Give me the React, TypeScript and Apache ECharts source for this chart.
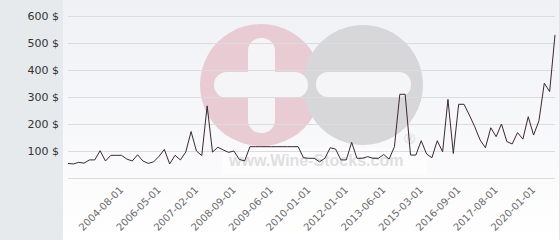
import React, { useEffect, useRef } from "react";
import * as echarts from "echarts";

const dates: string[] = [
  "2002-02-01", "2002-05-01", "2002-08-01", "2002-11-01", "2003-02-01", "2003-05-01", "2003-08-01", "2003-11-01", "2004-02-01", "2004-05-01",
  "2004-08-01",
  "2004-11-01", "2005-02-01", "2005-05-01", "2005-08-01", "2005-11-01", "2006-02-01",
  "2006-05-01",
  "2006-06-01", "2006-07-01", "2006-08-01", "2006-10-01", "2006-11-01", "2006-12-01",
  "2007-02-01",
  "2007-05-01", "2007-08-01", "2007-11-01", "2008-02-01", "2008-05-01", "2008-07-01",
  "2008-09-01",
  "2008-10-01", "2008-11-01", "2008-12-01", "2009-01-01", "2009-03-01", "2009-04-01",
  "2009-06-01",
  "2009-07-01", "2009-08-01", "2009-09-01", "2009-10-01", "2009-11-01", "2009-12-01",
  "2010-01-01",
  "2010-04-01", "2010-07-01", "2010-10-01", "2011-01-01", "2011-05-01", "2011-09-01",
  "2012-01-01",
  "2012-03-01", "2012-06-01", "2012-08-01", "2012-10-01", "2013-01-01", "2013-03-01",
  "2013-06-01",
  "2013-09-01", "2013-12-01", "2014-03-01", "2014-06-01", "2014-09-01", "2014-12-01",
  "2015-03-01",
  "2015-06-01", "2015-08-01", "2015-11-01", "2016-01-01", "2016-04-01", "2016-06-01",
  "2016-09-01",
  "2016-10-01", "2016-12-01", "2017-01-01", "2017-03-01", "2017-05-01", "2017-06-01",
  "2017-08-01",
  "2017-12-01", "2018-04-01", "2018-08-01", "2018-12-01", "2019-04-01", "2019-08-01",
  "2020-01-01",
  "2020-06-01", "2020-11-01", "2021-04-01", "2021-09-01",
];

const prices: number[] = [
  54, 52, 58, 55, 67, 67, 101, 63, 84, 84,
  84, 70, 63, 86, 63, 54, 60, 80, 106, 52,
  84, 67, 96, 172, 100, 83, 267, 96, 114, 104,
  95, 100, 69, 63, 116, 116, 116, 116, 116, 116,
  116, 116, 116, 116, 75, 73, 73, 60, 73, 112,
  107, 67, 67, 132, 73, 73, 79, 73, 73, 87,
  70, 116, 310, 310, 85, 85, 138, 89, 75, 138,
  97, 291, 91, 273, 273, 233, 190, 141, 112, 186,
  153, 200, 135, 126, 168, 144, 227, 159, 212, 351,
  320, 530,
];

const tickLabels: string[] = [
  "2004-08-01", "2006-05-01", "2007-02-01", "2008-09-01", "2009-06-01", "2010-01-01",
  "2012-01-01", "2013-06-01", "2015-03-01", "2016-09-01", "2017-08-01", "2020-01-01",
];

const yTicks: number[] = [0, 100, 200, 300, 400, 500, 600];

export default function App() {
  const ref = useRef<HTMLDivElement>(null);
  useEffect(() => {
    if (!ref.current) return;
    const chart = echarts.init(ref.current, undefined, { renderer: "svg" });
    const font = "'DejaVu Sans', sans-serif";
    chart.setOption({
      animation: false,
      backgroundColor: "#ffffff",
      graphic: [
        {
          type: "rect", z: -10, silent: true,
          shape: { x: 63, y: 0, width: 497, height: 240 },
          style: {
            fill: new echarts.graphic.LinearGradient(0, 0, 0, 1, [
              { offset: 0, color: "#eff1f5" },
              { offset: 0.75, color: "#fbfbfc" },
              { offset: 1, color: "#ffffff" },
            ]),
          },
        },
        {
          type: "rect", z: -10, silent: true,
          shape: { x: 0, y: 0, width: 63, height: 240 },
          style: { fill: "#e6eaed" },
        },
        {
          type: "line", z: -9, silent: true,
          shape: { x1: 559.5, y1: 0, x2: 559.5, y2: 240 },
          style: { stroke: "#e4e4e8", lineWidth: 1 },
        },
        {
          type: "circle", z: -8, silent: true,
          shape: { cx: 261, cy: 85, r: 61 },
          style: { fill: "#e9ccd3" },
        },
        {
          type: "circle", z: -7, silent: true,
          shape: { cx: 363, cy: 85, r: 60 },
          style: { fill: "#d7d7d9" },
        },
        {
          type: "rect", z: -6, silent: true,
          shape: { x: 248, y: 38, width: 27, height: 95, r: 13 },
          style: { fill: "#f5f5f8" },
        },
        {
          type: "rect", z: -6, silent: true,
          shape: { x: 214, y: 72, width: 94, height: 26, r: 13 },
          style: { fill: "#f5f5f8" },
        },
        {
          type: "rect", z: -6, silent: true,
          shape: { x: 316, y: 72, width: 95, height: 25, r: 12 },
          style: { fill: "#f5f5f8" },
        },
        {
          type: "rect", z: -6, silent: true,
          shape: { x: 222, y: 148, width: 205, height: 26 },
          style: { fill: "rgba(255,255,255,0.55)" },
        },
        {
          type: "text", z: -5, silent: true,
          x: 229, y: 152,
          style: {
            text: "www.Wine-Stocks.com",
            font: "bold 16px 'Liberation Sans', Arial, sans-serif",
            fill: "#dfdfe2",
          },
        },
        {
          type: "text", z: -5, silent: true,
          x: 404, y: 131,
          style: {
            text: "®",
            font: "15px 'Liberation Sans', Arial, sans-serif",
            fill: "#d8d8db",
          },
        },
      ],
      grid: { left: 68, right: 5, top: 16, bottom: 62, containLabel: false },
      xAxis: {
        type: "category",
        data: dates,
        boundaryGap: false,
        z: 1,
        axisLine: { show: false },
        axisTick: { show: false },
        splitLine: { show: false },
        axisLabel: {
          rotate: 45,
          margin: 10,
          fontSize: 10,
          fontFamily: font,
          color: "#6a6a6a",
          interval: (_i: number, v: string) => tickLabels.includes(v),
        },
      },
      yAxis: {
        type: "value",
        min: yTicks[0],
        max: yTicks[yTicks.length - 1],
        interval: 100,
        z: 1,
        axisLine: { show: false },
        axisTick: { show: false },
        splitLine: { show: true, lineStyle: { color: "#dcdcdf", width: 1 } },
        axisLabel: {
          margin: 9,
          fontSize: 11,
          fontFamily: font,
          color: "#333333",
          showMinLabel: false,
          formatter: (v: number) => (v === 0 ? "" : `${v} $`),
        },
      },
      series: [
        {
          type: "line",
          data: prices,
          symbol: "none",
          lineStyle: { color: "#3d2630", width: 1 },
          z: 3,
        },
      ],
    });
    return () => chart.dispose();
  }, []);
  return (
    <div
      ref={ref}
      style={{ position: "absolute", left: 0, top: 0, width: 560, height: 240 }}
    />
  );
}
